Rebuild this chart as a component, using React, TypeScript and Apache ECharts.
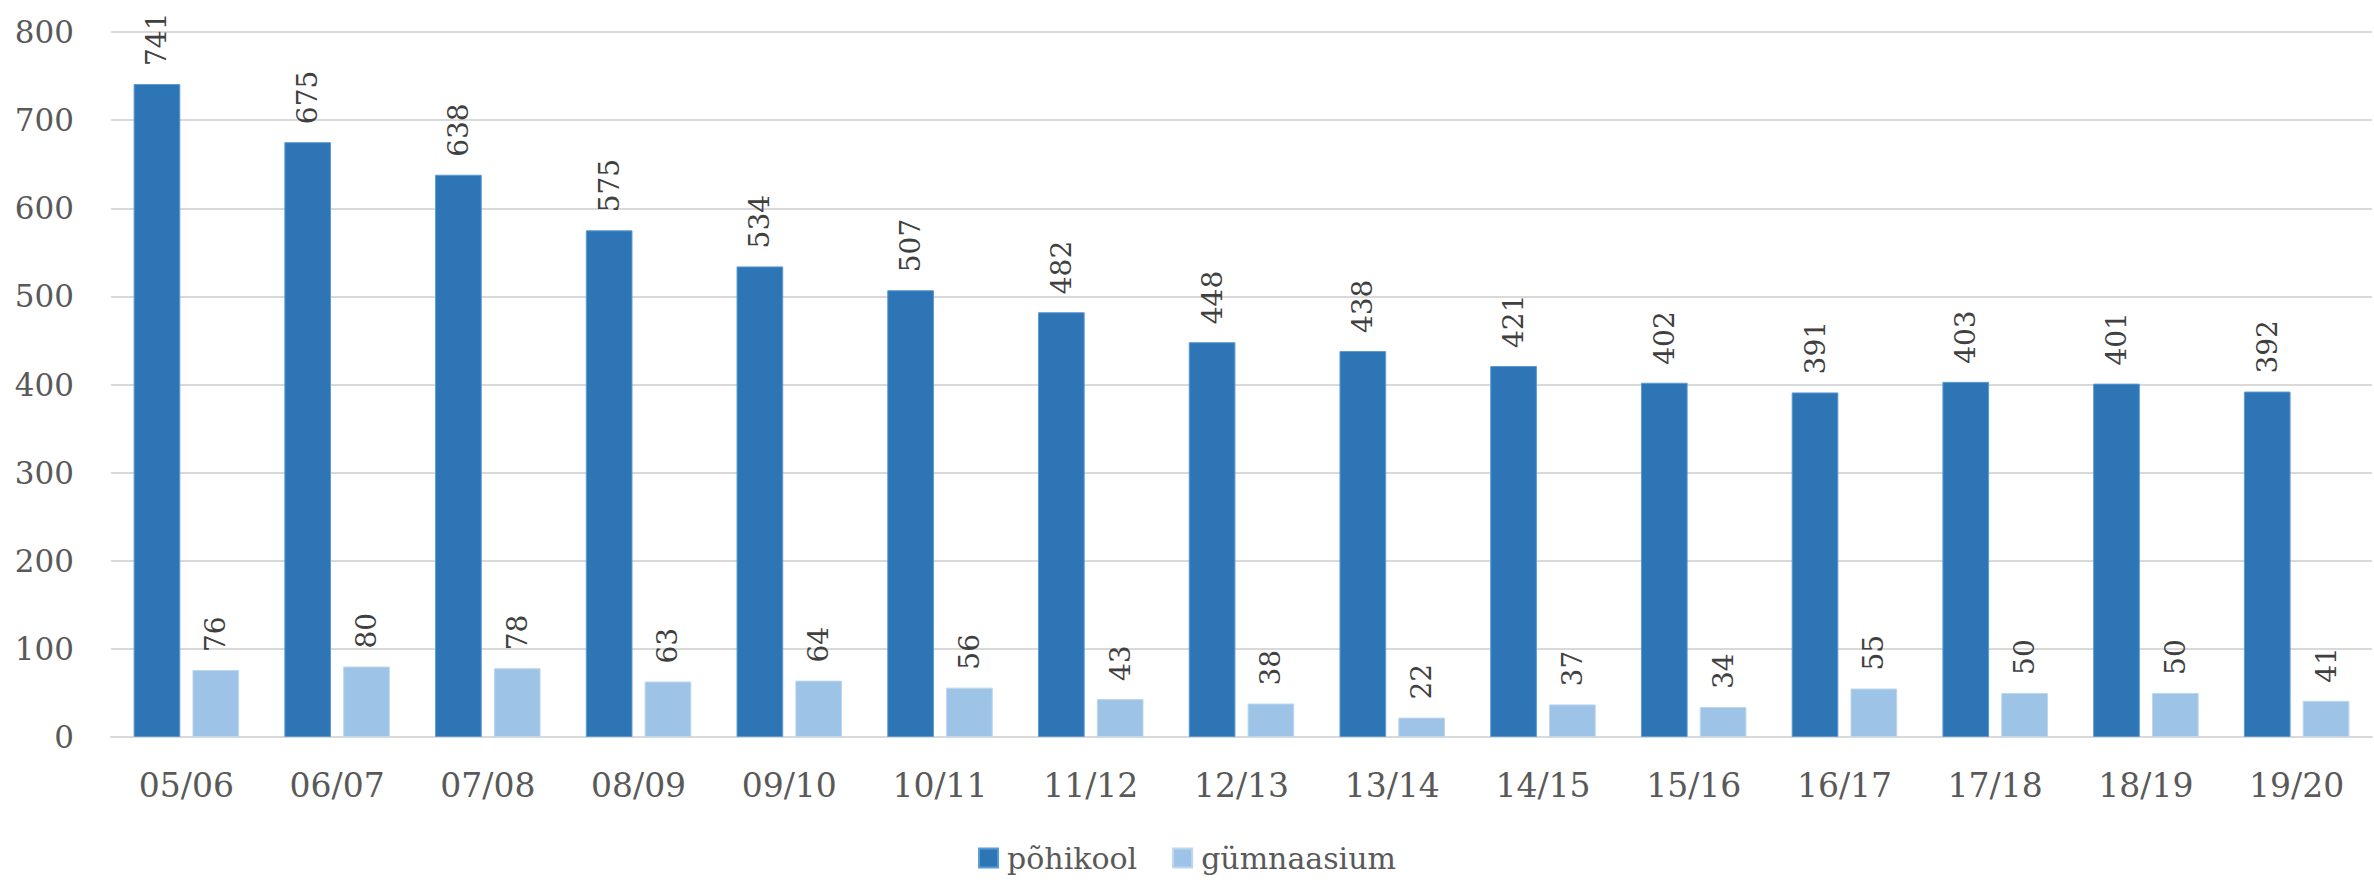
import React, { useEffect, useRef } from "react";
import * as echarts from "echarts";

const categories = ["05/06", "06/07", "07/08", "08/09", "09/10", "10/11", "11/12", "12/13", "13/14", "14/15", "15/16", "16/17", "17/18", "18/19", "19/20"];
const pohikool = [741, 675, 638, 575, 534, 507, 482, 448, 438, 421, 402, 391, 403, 401, 392];
const gumnaasium = [76, 80, 78, 63, 64, 56, 43, 38, 22, 37, 34, 55, 50, 50, 41];

const FONT = "DejaVu Serif";
const TEXT = "#595959";

export default function App() {
  const ref = useRef<HTMLDivElement>(null);
  useEffect(() => {
    document.body.style.margin = "0";
    const chart = echarts.init(ref.current!, null, { renderer: "svg" });
    const label = {
      show: true,
      position: "top" as const,
      rotate: 90,
      align: "left" as const,
      verticalAlign: "middle" as const,
      distance: 18,
      color: "#404040",
      fontFamily: FONT,
      fontSize: 28,
    };
    chart.setOption({
      animation: false,
      backgroundColor: "#ffffff",
      textStyle: { fontFamily: FONT },
      grid: { left: 111, right: 2, top: 32, bottom: 145, containLabel: false },
      legend: {
        bottom: 4,
        left: "center",
        itemWidth: 19,
        itemHeight: 19,
        itemGap: 35,
        icon: "rect",
        textStyle: { fontFamily: FONT, fontSize: 30, color: TEXT, padding: [0, 0, 0, 4] },
        data: ["põhikool", "gümnaasium"],
      },
      xAxis: {
        type: "category",
        data: categories,
        axisLine: { lineStyle: { color: "#D9D9D9", width: 2 } },
        axisTick: { show: false },
        axisLabel: { color: TEXT, fontFamily: FONT, fontSize: 33, margin: 32 },
      },
      yAxis: {
        type: "value",
        min: 0,
        max: 800,
        interval: 100,
        axisLine: { show: false },
        axisTick: { show: false },
        splitLine: { lineStyle: { color: "#D9D9D9", width: 2 } },
        axisLabel: { color: TEXT, fontFamily: FONT, fontSize: 31, margin: 37 },
      },
      series: [
        {
          name: "põhikool",
          type: "bar",
          data: pohikool,
          barGap: "26%",
          barCategoryGap: "30%",
          itemStyle: { color: "#2E75B6", borderColor: "#5B9BD5", borderWidth: 1 },
          label,
        },
        {
          name: "gümnaasium",
          type: "bar",
          data: gumnaasium,
          barGap: "26%",
          barCategoryGap: "30%",
          itemStyle: { color: "#9DC3E6", borderColor: "#BDD7EE", borderWidth: 1 },
          label,
        },
      ],
    });
    return () => chart.dispose();
  }, []);
  return <div ref={ref} style={{ width: 2374, height: 882 }} />;
}
